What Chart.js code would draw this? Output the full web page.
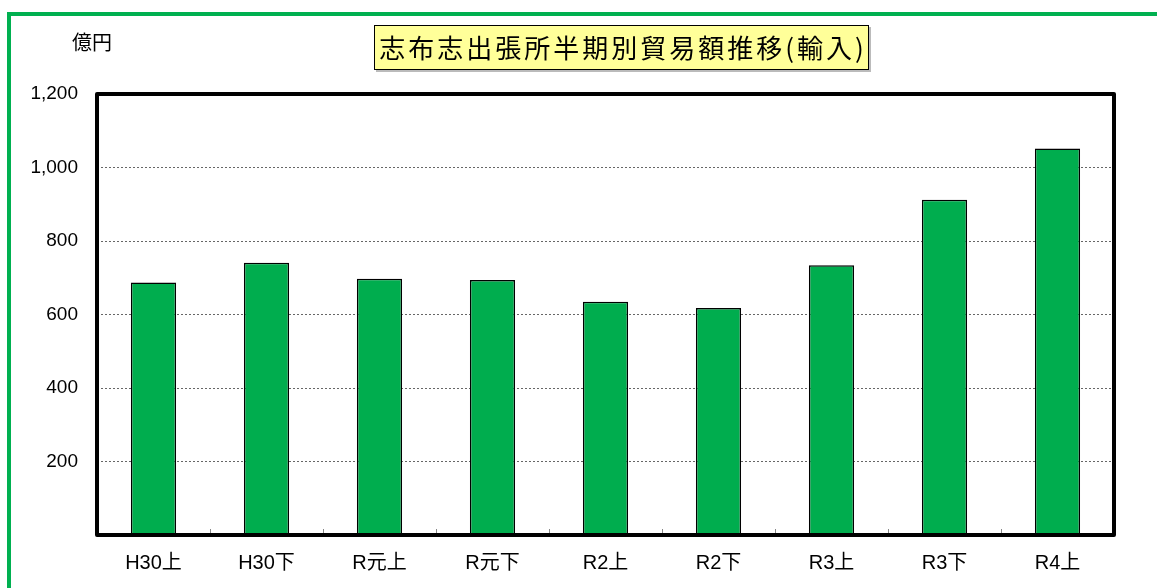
<!DOCTYPE html>
<html>
<head>
<meta charset="utf-8">
<script src="https://cdn.jsdelivr.net/npm/chart.js@4"></script>
<style>
html, body { margin: 0; background: #fff; }
</style>
</head>
<body>
<canvas id="importChart" width="1157" height="588"></canvas>
<script>
const periods = ['H30上', 'H30下', 'R元上', 'R元下', 'R2上', 'R2下', 'R3上', 'R3下', 'R4上'];
const imports = [687, 741, 697, 694, 635, 618, 734, 912, 1052];
const yTicks = [0, 200, 400, 600, 800, 1000, 1200];
const chartTitle = '志布志出張所半期別貿易額推移(輸入)';
const unitLabel = '億円';

const jpFont = '"Liberation Sans", "Noto Sans CJK JP", sans-serif';

// green frame around the page
const pageFrame = {
    id: 'pageFrame',
    beforeDraw(chart) {
        const c = chart.ctx;
        c.save();
        c.fillStyle = '#00B050';
        c.fillRect(7, 12, 1157, 4);
        c.fillRect(7, 12, 4, 588);
        c.restore();
    }
};

// thick black plot frame + small category ticks
const plotFrame = {
    id: 'plotFrame',
    afterDatasetsDraw(chart) {
        const c = chart.ctx;
        const a = chart.chartArea;
        const x = chart.scales.x;
        c.save();
        c.strokeStyle = '#888';
        c.lineWidth = 1;
        for (let i = 1; i < periods.length; i++) {
            const px = Math.round((x.getPixelForValue(i - 1) + x.getPixelForValue(i)) / 2) + 0.5;
            c.beginPath();
            c.moveTo(px, a.bottom);
            c.lineTo(px, a.bottom - 6);
            c.stroke();
        }
        c.strokeStyle = '#000';
        c.lineWidth = 4;
        c.lineJoin = 'round';
        c.strokeRect(a.left, a.top, a.right - a.left, a.bottom - a.top);
        c.restore();
    }
};

// yellow title box and unit label
const titleBox = {
    id: 'titleBox',
    afterDraw(chart) {
        const c = chart.ctx;
        c.save();
        c.fillStyle = '#bbb';
        c.fillRect(376, 27, 495, 45);
        c.fillStyle = '#FFFF99';
        c.fillRect(374, 25, 495, 45);
        c.strokeStyle = '#000';
        c.lineWidth = 1;
        c.strokeRect(374.5, 25.5, 494, 44);
        c.fillStyle = '#000';
        c.font = '26px "Noto Sans CJK JP", sans-serif';
        c.letterSpacing = '3px';
        c.textAlign = 'center';
        c.textBaseline = 'middle';
        c.fillText(chartTitle, 623, 48);
        c.letterSpacing = '0px';
        c.font = '20px "Noto Sans CJK JP", sans-serif';
        c.fillText(unitLabel, 92, 42);
        c.restore();
    }
};

const ctx = document.getElementById('importChart').getContext('2d');
const importChart = new Chart(ctx, {
    type: 'bar',
    data: {
        labels: periods,
        datasets: [{
            label: '輸入',
            data: imports,
            backgroundColor: '#00AD4E',
            borderColor: '#000',
            borderWidth: 1.5,
            borderSkipped: false,
            barPercentage: 0.4,
            categoryPercentage: 1.0
        }]
    },
    options: {
        responsive: false,
        animation: false,
        layout: {
            padding: { top: 94, right: 43, bottom: 0, left: 0 }
        },
        plugins: {
            legend: { display: false },
            tooltip: { enabled: false }
        },
        scales: {
            x: {
                grid: { display: false, drawTicks: false },
                border: { display: false },
                ticks: {
                    color: '#000',
                    padding: 16,
                    maxRotation: 0,
                    font: { family: jpFont, size: 20 }
                },
                afterFit(scale) { scale.height = 53; }
            },
            y: {
                min: 0,
                max: 1200,
                afterBuildTicks(scale) {
                    scale.ticks = yTicks.map(v => ({ value: v }));
                },
                grid: {
                    color: '#666',
                    lineWidth: 1,
                    drawTicks: false
                },
                border: { display: false, dash: [2, 2] },
                ticks: {
                    color: '#000',
                    padding: 19,
                    font: { family: jpFont, size: 19 },
                    callback: v => v === 0 ? '' : v.toLocaleString('en-US')
                },
                afterFit(scale) { scale.width = 97; }
            }
        }
    },
    plugins: [pageFrame, plotFrame, titleBox]
});
</script>
</body>
</html>
